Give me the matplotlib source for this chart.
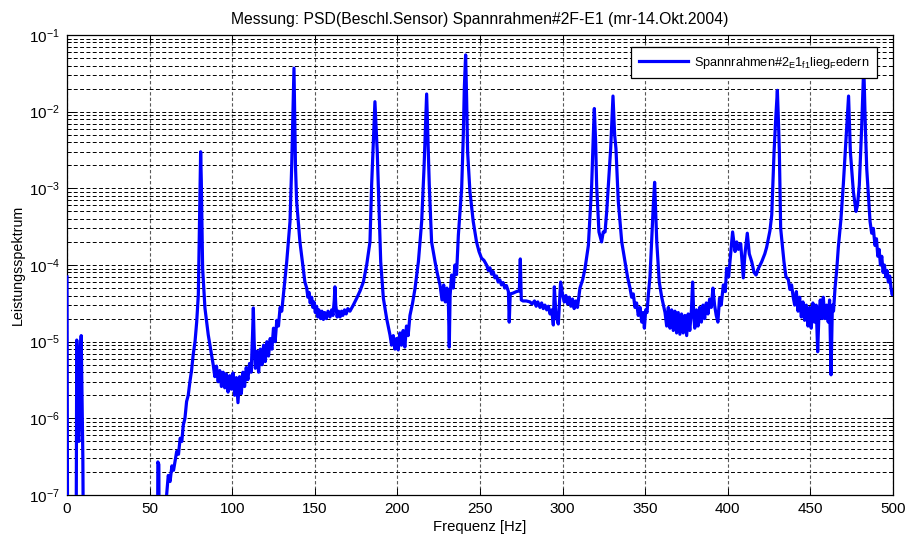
import math
import matplotlib
matplotlib.use("Agg")
import matplotlib.pyplot as plt
from matplotlib.ticker import LogLocator, FixedLocator, NullFormatter, FuncFormatter

plt.rcParams['font.family'] = ['Liberation Sans', 'DejaVu Sans']
plt.rcParams['mathtext.fontset'] = 'custom'
plt.rcParams['mathtext.rm'] = 'Liberation Sans'
plt.rcParams['mathtext.it'] = 'Liberation Sans:italic'
plt.rcParams['mathtext.bf'] = 'Liberation Sans:bold'
plt.rcParams['mathtext.default'] = 'regular'

title = "Messung: PSD(Beschl.Sensor) Spannrahmen#2F-E1 (mr-14.Okt.2004)"
series_label = "Spannrahmen#2$_E$1$_{f1}$lieg$_F$edern"
x_label = "Frequenz [Hz]"
y_label = "Leistungsspektrum"
x_ticks = [0, 50, 100, 150, 200, 250, 300, 350, 400, 450, 500]
y_decades = [1e-7, 1e-6, 1e-5, 1e-4, 1e-3, 1e-2, 1e-1]

# (frequency in Hz, power spectral density) of the acceleration sensor
psd_trace = [
    (0.0, 7e-5), (0.5, 1e-9), (5.4, 1e-9), (5.7, 6e-7), (5.9, 1.05e-5), (6.2, 8e-6),
    (6.6, 6e-7), (7.2, 5e-7), (7.6, 1e-6), (8.0, 6e-6), (8.6, 1.2e-5), (9.0, 3e-6),
    (9.6, 3e-7), (10.3, 1e-9),
    (54.6, 1e-9), (55.0, 2.7e-7), (55.6, 2.5e-7), (56.0, 1e-9), (59.5, 1e-9),
    (60.3, 1e-7), (61.3, 1.8e-7), (62.4, 1.5e-7), (63.5, 2.4e-7), (64.5, 2.1e-7),
    (66.4, 3.7e-7), (67.5, 3.4e-7), (68.5, 5.5e-7), (69.5, 5.0e-7), (70.4, 8.2e-7),
    (71.4, 1.0e-6), (72.4, 1.66e-6), (73.4, 2.0e-6), (74.4, 3.0e-6), (75.4, 4.2e-6),
    (76.4, 6.8e-6), (77.5, 1.0e-5), (78.5, 1.8e-5), (79.5, 4.1e-5), (80.1, 2.5e-4),
    (80.9, 3.0e-3), (81.3, 1.26e-3), (81.7, 3.2e-4), (82.1, 9e-5), (83.5, 2.75e-5),
    (85.5, 1.23e-5), (87.5, 6.8e-6),
    (88.5, 5.0e-6), (89.5, 3.5e-6), (90.5, 4.8e-6), (91.5, 3.0e-6), (92.5, 4.2e-6),
    (93.5, 2.6e-6), (94.5, 4.0e-6), (95.5, 2.5e-6), (96.5, 3.8e-6), (97.5, 2.2e-6),
    (98.5, 3.6e-6), (99.5, 2.4e-6), (100.5, 3.9e-6), (101.5, 2.0e-6), (102.5, 3.4e-6),
    (103.5, 1.6e-6), (104.5, 3.5e-6), (105.5, 2.1e-6), (106.5, 4.0e-6), (107.5, 2.6e-6),
    (108.5, 4.6e-6), (109.5, 3.2e-6), (110.5, 5.2e-6), (111.5, 4.0e-6),
    (112.3, 1.2e-5), (112.8, 2.75e-5), (113.3, 1.0e-5), (114.0, 4.5e-6), (115.0, 7.5e-6),
    (116.0, 4.0e-6), (117.0, 8.0e-6), (118.0, 5.0e-6), (119.0, 9.0e-6), (120.0, 5.5e-6),
    (121.0, 1.0e-5), (122.0, 6.5e-6), (123.0, 1.1e-5), (124.0, 8.0e-6), (125.0, 1.5e-5),
    (126.0, 1.0e-5), (127.0, 1.9e-5), (128.0, 1.6e-5), (129.0, 2.8e-5), (130.0, 2.5e-5),
    (131.0, 4.1e-5), (133.0, 1.1e-4), (135.0, 3.7e-4), (136.0, 1.9e-3), (137.0, 1.5e-2),
    (137.4, 3.7e-2), (137.8, 1.0e-2), (138.3, 2.0e-3), (139.0, 6.8e-4), (141.0, 2.0e-4),
    (143.0, 9.1e-5), (144.0, 6e-5), (145.1, 5.0e-5), (145.8, 3.8e-5), (146.5, 4.4e-5),
    (147.2, 3.2e-5), (148.1, 3.8e-5), (148.8, 2.8e-5), (149.5, 3.3e-5), (150.3, 2.4e-5),
    (151.1, 2.9e-5), (151.8, 2.1e-5), (152.5, 2.6e-5), (153.5, 2.0e-5), (154.3, 2.5e-5),
    (155.2, 1.95e-5), (156.0, 2.4e-5), (157.0, 2.0e-5), (158.0, 2.5e-5), (159.2, 2.1e-5),
    (160.2, 2.6e-5), (161.0, 2.2e-5), (161.8, 3.5e-5), (162.2, 5.2e-5), (162.7, 3.0e-5),
    (163.5, 2.1e-5), (164.4, 2.5e-5), (165.3, 2.1e-5), (166.2, 2.5e-5), (167.0, 2.2e-5),
    (168.0, 2.6e-5), (169.0, 2.3e-5), (170.0, 2.7e-5), (171.3, 2.5e-5), (173.3, 3.0e-5),
    (175.4, 3.7e-5), (177.4, 4.6e-5), (179.4, 6.0e-5), (181.4, 1.0e-4), (183.4, 2.0e-4),
    (184.4, 1.1e-3), (186.4, 1.35e-2), (187.8, 3.0e-3), (189.1, 3.7e-4), (189.9, 1.1e-4),
    (191.5, 3.7e-5), (193.5, 2.0e-5), (195.5, 1.23e-5), (196.5, 9e-6), (197.5, 1.2e-5),
    (198.5, 8e-6), (199.5, 1.1e-5), (200.5, 7.8e-6), (201.5, 1.3e-5), (202.5, 9e-6),
    (203.5, 1.4e-5), (204.5, 8.5e-6), (205.5, 1.6e-5), (206.5, 1.2e-5), (207.6, 2.2e-5),
    (209.2, 3.2e-5), (210.7, 5.0e-5), (212.7, 1.1e-4), (214.7, 3.7e-4), (216.1, 1.8e-3),
    (217.7, 1.7e-2), (218.7, 3.2e-3), (219.3, 1.1e-3), (220.7, 2.0e-4), (222.8, 1.1e-4),
    (224.3, 7.5e-5), (225.8, 5.5e-5), (227.0, 3.5e-5), (228.0, 5.5e-5), (229.0, 3.3e-5),
    (230.0, 5.0e-5), (230.9, 3.0e-5), (231.4, 8.5e-6), (231.9, 4.0e-5), (232.8, 7.4e-5),
    (233.8, 5.0e-5), (234.8, 1.0e-4), (235.8, 7.5e-5), (236.9, 2.45e-4), (238.9, 1.0e-3),
    (239.9, 5.0e-3), (240.5, 2.0e-2), (241.3, 5.5e-2), (241.9, 1.5e-2), (242.5, 3.0e-3),
    (243.9, 9.1e-4), (245.9, 3.7e-4), (247.9, 2.0e-4), (249.4, 1.5e-4), (250.9, 1.23e-4),
    (252.4, 1.15e-4), (254.0, 1.0e-4), (255.0, 8.5e-5), (256.0, 9.2e-5), (257.0, 7.6e-5),
    (258.0, 8.2e-5), (259.0, 6.8e-5), (260.0, 7.2e-5), (261.0, 6.0e-5), (262.0, 6.4e-5),
    (263.0, 5.5e-5), (264.0, 5.9e-5), (265.0, 5.0e-5), (266.0, 5.4e-5), (267.2, 4.5e-5),
    (267.7, 1.8e-5), (268.3, 4.2e-5), (270.0, 4.3e-5), (272.0, 4.5e-5), (273.8, 4.6e-5),
    (274.4, 1.2e-4), (275.0, 3.5e-5), (276.0, 3.4e-5), (278.0, 3.4e-5), (280.3, 3.3e-5),
    (281.5, 3.1e-5), (283.0, 3.4e-5), (284.0, 2.9e-5), (285.0, 3.3e-5), (286.3, 2.8e-5),
    (287.3, 3.2e-5), (288.3, 2.7e-5), (289.3, 3.0e-5), (290.4, 2.6e-5), (291.4, 2.9e-5),
    (292.4, 2.3e-5), (293.4, 2.6e-5), (294.4, 1.65e-5), (295.0, 5.2e-5), (296.0, 2.2e-5),
    (297.4, 1.7e-5), (298.8, 6.0e-5), (300.0, 4.1e-5), (301.0, 3.3e-5), (302.0, 4.0e-5),
    (303.0, 3.1e-5), (304.0, 3.8e-5), (305.0, 2.9e-5), (306.0, 3.6e-5), (307.0, 2.7e-5),
    (308.0, 3.4e-5), (309.0, 2.8e-5), (310.5, 5.0e-5), (312.2, 6.5e-5), (313.6, 9.1e-5),
    (315.6, 1.8e-4), (317.6, 1.1e-3), (318.6, 5e-3), (319.2, 1.1e-2), (320.0, 4e-3),
    (320.6, 1.1e-3), (322.0, 2.7e-4), (323.6, 2.0e-4), (324.6, 2.7e-4), (325.7, 2.7e-4),
    (326.7, 5e-4), (327.7, 1.1e-3), (329.1, 3.3e-3), (330.5, 1.6e-2), (331.5, 5e-3),
    (332.3, 3.3e-3), (333.7, 6.8e-4), (335.8, 2.0e-4), (337.8, 1.1e-4), (339.3, 7.0e-5),
    (340.8, 5.0e-5), (341.8, 3.8e-5), (342.8, 4.2e-5), (343.8, 2.8e-5), (344.8, 3.2e-5),
    (345.8, 2.2e-5), (346.9, 2.8e-5), (347.9, 1.8e-5), (348.8, 2.4e-5), (349.5, 1.5e-5),
    (350.3, 2.6e-5), (351.1, 2.4e-5), (351.9, 4.1e-5), (352.9, 7e-5), (353.9, 2.0e-4),
    (354.9, 6e-4), (355.7, 1.2e-3), (356.5, 4e-4), (357.0, 2.0e-4), (358.5, 6.0e-5),
    (360.0, 3.8e-5), (361.0, 3.0e-5), (362.0, 2.4e-5), (363.0, 1.6e-5), (364.0, 2.8e-5),
    (365.0, 1.5e-5), (366.0, 2.6e-5), (367.0, 1.4e-5), (368.0, 2.5e-5), (369.0, 1.3e-5),
    (370.0, 2.4e-5), (371.0, 1.25e-5), (372.0, 2.3e-5), (373.0, 1.3e-5), (374.0, 2.2e-5),
    (375.1, 1.2e-5), (376.0, 2.3e-5), (377.0, 1.4e-5), (378.0, 2.6e-5), (378.7, 6.0e-5),
    (379.4, 2.2e-5), (380.0, 1.5e-5), (381.0, 2.6e-5), (382.0, 1.6e-5), (383.0, 2.8e-5),
    (384.0, 1.8e-5), (385.0, 3.0e-5), (386.0, 2.0e-5), (387.0, 3.2e-5), (388.0, 2.3e-5),
    (389.0, 3.6e-5), (390.0, 2.8e-5), (391.0, 5.0e-5), (392.0, 3.0e-5), (393.0, 2.2e-5),
    (394.0, 1.8e-5), (395.0, 3.7e-5), (396.0, 3.0e-5), (397.3, 5.5e-5), (398.5, 4.5e-5),
    (399.3, 9.1e-5), (400.5, 7e-5), (401.3, 1.1e-4), (402.9, 2.7e-4), (404.4, 1.5e-4),
    (405.4, 2.0e-4), (406.4, 1.6e-4), (407.8, 1.9e-4), (409.4, 6.8e-5), (410.4, 1.4e-4),
    (411.8, 2.6e-4), (413.0, 1.4e-4), (414.5, 1.1e-4), (415.9, 8e-5), (417.1, 7.4e-5),
    (418.5, 9e-5), (420.5, 1.1e-4), (422.4, 1.4e-4), (423.5, 1.7e-4), (425.5, 2.8e-4),
    (426.6, 4.5e-4), (428.0, 3.0e-3), (429.0, 8e-3), (430.0, 1.9e-2), (430.8, 6e-3),
    (431.2, 3.0e-3), (432.0, 3.0e-4), (434.0, 1.1e-4), (435.2, 7e-5), (436.6, 6.5e-5),
    (437.6, 4.8e-5), (438.6, 5.5e-5), (439.6, 3.8e-5), (440.5, 3.0e-5), (441.5, 4.5e-5),
    (442.5, 2.5e-5), (443.5, 3.8e-5), (444.5, 2.1e-5), (445.5, 3.3e-5), (446.5, 1.9e-5),
    (447.5, 3.0e-5), (448.5, 1.6e-5), (449.5, 2.8e-5), (450.5, 1.5e-5), (451.5, 3.2e-5),
    (452.5, 1.8e-5), (453.5, 3.0e-5), (454.4, 7.4e-6), (455.2, 2.4e-5), (456.0, 3.5e-5),
    (457.0, 2.0e-5), (457.8, 3.8e-5), (458.8, 2.0e-5), (459.8, 3.0e-5), (460.8, 1.8e-5),
    (461.6, 3.5e-5), (462.5, 3.7e-6), (463.3, 3.0e-5), (464.0, 2.5e-5), (464.9, 5.0e-5),
    (466.0, 9e-5), (466.9, 1.7e-4), (468.5, 4e-4), (469.9, 1.1e-3), (471.9, 6.0e-3),
    (473.1, 1.6e-2), (474.2, 3.0e-3), (476.0, 9.1e-4), (477.6, 5.0e-4), (478.5, 6e-4),
    (479.6, 1.1e-3), (481.0, 6.0e-3), (482.3, 4.0e-2), (483.3, 6e-3), (484.1, 1.8e-3),
    (486.1, 3.7e-4), (487.1, 2.6e-4), (488.1, 3.0e-4), (489.1, 1.8e-4), (490.0, 2.2e-4),
    (490.8, 1.3e-4), (491.6, 1.6e-4), (492.4, 1.0e-4), (493.2, 1.3e-4), (494.0, 8e-5),
    (494.8, 1.0e-4), (495.6, 7.0e-5), (496.4, 8.5e-5), (497.2, 6.0e-5), (498.0, 7.2e-5),
    (498.8, 5.0e-5), (499.5, 4.1e-5), (500.0, 4.5e-5),
]
freq = [p[0] for p in psd_trace]
psd = [p[1] for p in psd_trace]

fig = plt.figure(figsize=(9.09, 5.38), dpi=100)
ax = fig.add_axes([0.0737, 0.0799, 0.9087, 0.8550])

ax.semilogy(freq, psd, color='#0000ff', lw=2.3, label=series_label, zorder=3)

ax.set_xlim(0, 500)
ax.set_ylim(y_decades[0], y_decades[-1])

ax.xaxis.set_major_locator(FixedLocator(x_ticks))
ax.yaxis.set_major_locator(FixedLocator(y_decades))
ax.yaxis.set_minor_locator(LogLocator(base=10, subs=range(2, 10), numticks=20))
ax.yaxis.set_minor_formatter(NullFormatter())


def decade_label(v, pos):
    return r"$10^{%d}$" % int(round(math.log10(v)))


ax.yaxis.set_major_formatter(FuncFormatter(decade_label))

ax.tick_params(axis='both', which='both', direction='in', top=True, right=True,
               labelsize=11, colors='black', width=0.7)
ax.tick_params(axis='both', which='major', length=5, pad=5)
ax.tick_params(axis='y', which='minor', length=3)

ax.grid(True, which='major', axis='x', color='0.35', linestyle=(0, (3, 2)), lw=0.8)
ax.grid(True, which='both', axis='y', color='black', linestyle=(0, (4, 2.5)), lw=0.7)
ax.set_axisbelow(True)

for sp in ax.spines.values():
    sp.set_linewidth(0.9)
    sp.set_color('black')

ax.set_title(title, fontsize=11.3, pad=8)
ax.set_xlabel(x_label, fontsize=10.7, labelpad=3)
ax.set_ylabel(y_label, fontsize=10.3, labelpad=3)

leg = ax.legend(loc='upper right', bbox_to_anchor=(0.9806, 0.9739), borderaxespad=0,
                fancybox=False, framealpha=1, edgecolor='black', fontsize=9.2,
                handlelength=3.8, handletextpad=0.5, borderpad=0.6)
leg.get_frame().set_linewidth(0.9)
leg.set_zorder(5)

fig.savefig("out.png", dpi=100)
